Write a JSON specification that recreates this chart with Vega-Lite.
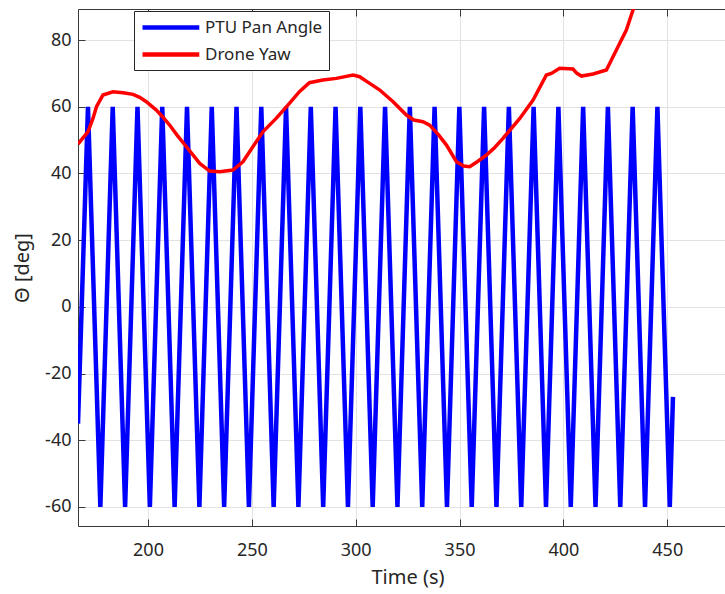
{
  "$schema": "https://vega.github.io/schema/vega-lite/v6.json",
  "width": 647,
  "height": 517,
  "autosize": "none",
  "padding": {"left": 78, "top": 9, "right": 0, "bottom": 68},
  "background": "white",
  "config": {
    "font": "Noto Sans",
    "view": {"stroke": null},
    "axis": {
      "domainColor": "#3a3a3a",
      "tickColor": "#3a3a3a",
      "gridColor": "#e2e2e2",
      "gridWidth": 1,
      "labelColor": "#262626",
      "titleColor": "#262626",
      "labelFontSize": 18,
      "titleFontSize": 20,
      "titleFontWeight": "normal",
      "tickSize": -7
    },
    "legend": {
      "orient": "none",
      "legendX": 56,
      "legendY": 2,
      "padding": 6,
      "strokeColor": "#262626",
      "fillColor": "white",
      "cornerRadius": 0,
      "labelFontSize": 17,
      "labelColor": "#262626",
      "labelLimit": 300,
      "symbolType": "M-1,0H6.1",
      "symbolSize": 256,
      "symbolStrokeWidth": 4.5,
      "rowPadding": 7,
      "labelOffset": 44
    }
  },
  "datasets": {
    "pan": [
      {"t": 166.3, "v": -35, "series": "PTU Pan Angle"},
      {"t": 171.1, "v": 60, "series": "PTU Pan Angle"},
      {"t": 177.06, "v": -60, "series": "PTU Pan Angle"},
      {"t": 183.02, "v": 60, "series": "PTU Pan Angle"},
      {"t": 188.98, "v": -60, "series": "PTU Pan Angle"},
      {"t": 194.94, "v": 60, "series": "PTU Pan Angle"},
      {"t": 200.9, "v": -60, "series": "PTU Pan Angle"},
      {"t": 206.86, "v": 60, "series": "PTU Pan Angle"},
      {"t": 212.82, "v": -60, "series": "PTU Pan Angle"},
      {"t": 218.78, "v": 60, "series": "PTU Pan Angle"},
      {"t": 224.74, "v": -60, "series": "PTU Pan Angle"},
      {"t": 230.7, "v": 60, "series": "PTU Pan Angle"},
      {"t": 236.66, "v": -60, "series": "PTU Pan Angle"},
      {"t": 242.62, "v": 60, "series": "PTU Pan Angle"},
      {"t": 248.58, "v": -60, "series": "PTU Pan Angle"},
      {"t": 254.54, "v": 60, "series": "PTU Pan Angle"},
      {"t": 260.5, "v": -60, "series": "PTU Pan Angle"},
      {"t": 266.46, "v": 60, "series": "PTU Pan Angle"},
      {"t": 272.42, "v": -60, "series": "PTU Pan Angle"},
      {"t": 278.38, "v": 60, "series": "PTU Pan Angle"},
      {"t": 284.34, "v": -60, "series": "PTU Pan Angle"},
      {"t": 290.3, "v": 60, "series": "PTU Pan Angle"},
      {"t": 296.26, "v": -60, "series": "PTU Pan Angle"},
      {"t": 302.22, "v": 60, "series": "PTU Pan Angle"},
      {"t": 308.18, "v": -60, "series": "PTU Pan Angle"},
      {"t": 314.14, "v": 60, "series": "PTU Pan Angle"},
      {"t": 320.1, "v": -60, "series": "PTU Pan Angle"},
      {"t": 326.06, "v": 60, "series": "PTU Pan Angle"},
      {"t": 332.02, "v": -60, "series": "PTU Pan Angle"},
      {"t": 337.98, "v": 60, "series": "PTU Pan Angle"},
      {"t": 343.94, "v": -60, "series": "PTU Pan Angle"},
      {"t": 349.9, "v": 60, "series": "PTU Pan Angle"},
      {"t": 355.86, "v": -60, "series": "PTU Pan Angle"},
      {"t": 361.82, "v": 60, "series": "PTU Pan Angle"},
      {"t": 367.78, "v": -60, "series": "PTU Pan Angle"},
      {"t": 373.74, "v": 60, "series": "PTU Pan Angle"},
      {"t": 379.7, "v": -60, "series": "PTU Pan Angle"},
      {"t": 385.66, "v": 60, "series": "PTU Pan Angle"},
      {"t": 391.62, "v": -60, "series": "PTU Pan Angle"},
      {"t": 397.58, "v": 60, "series": "PTU Pan Angle"},
      {"t": 403.54, "v": -60, "series": "PTU Pan Angle"},
      {"t": 409.5, "v": 60, "series": "PTU Pan Angle"},
      {"t": 415.46, "v": -60, "series": "PTU Pan Angle"},
      {"t": 421.42, "v": 60, "series": "PTU Pan Angle"},
      {"t": 427.38, "v": -60, "series": "PTU Pan Angle"},
      {"t": 433.34, "v": 60, "series": "PTU Pan Angle"},
      {"t": 439.3, "v": -60, "series": "PTU Pan Angle"},
      {"t": 445.26, "v": 60, "series": "PTU Pan Angle"},
      {"t": 451.22, "v": -60, "series": "PTU Pan Angle"},
      {"t": 452.75, "v": -27, "series": "PTU Pan Angle"}
    ],
    "yaw": [
      {"t": 166.3, "v": 48.8, "series": "Drone Yaw"},
      {"t": 168.5, "v": 50.5, "series": "Drone Yaw"},
      {"t": 171.1, "v": 52.5, "series": "Drone Yaw"},
      {"t": 173.5, "v": 56.5, "series": "Drone Yaw"},
      {"t": 175.2, "v": 60.0, "series": "Drone Yaw"},
      {"t": 178.3, "v": 63.5, "series": "Drone Yaw"},
      {"t": 183.1, "v": 64.5, "series": "Drone Yaw"},
      {"t": 188.0, "v": 64.2, "series": "Drone Yaw"},
      {"t": 192.8, "v": 63.7, "series": "Drone Yaw"},
      {"t": 196.0, "v": 62.8, "series": "Drone Yaw"},
      {"t": 199.2, "v": 61.5, "series": "Drone Yaw"},
      {"t": 204.0, "v": 59.0, "series": "Drone Yaw"},
      {"t": 207.0, "v": 57.0, "series": "Drone Yaw"},
      {"t": 210.4, "v": 54.5, "series": "Drone Yaw"},
      {"t": 214.0, "v": 51.5, "series": "Drone Yaw"},
      {"t": 218.5, "v": 48.0, "series": "Drone Yaw"},
      {"t": 224.9, "v": 43.0, "series": "Drone Yaw"},
      {"t": 229.7, "v": 40.7, "series": "Drone Yaw"},
      {"t": 234.5, "v": 40.5, "series": "Drone Yaw"},
      {"t": 240.9, "v": 41.0, "series": "Drone Yaw"},
      {"t": 245.7, "v": 43.5, "series": "Drone Yaw"},
      {"t": 250.5, "v": 48.0, "series": "Drone Yaw"},
      {"t": 255.3, "v": 52.5, "series": "Drone Yaw"},
      {"t": 261.7, "v": 56.5, "series": "Drone Yaw"},
      {"t": 268.1, "v": 61.0, "series": "Drone Yaw"},
      {"t": 272.9, "v": 64.5, "series": "Drone Yaw"},
      {"t": 277.7, "v": 67.2, "series": "Drone Yaw"},
      {"t": 284.2, "v": 68.0, "series": "Drone Yaw"},
      {"t": 290.7, "v": 68.5, "series": "Drone Yaw"},
      {"t": 298.7, "v": 69.5, "series": "Drone Yaw"},
      {"t": 301.9, "v": 69.0, "series": "Drone Yaw"},
      {"t": 306.0, "v": 67.3, "series": "Drone Yaw"},
      {"t": 311.6, "v": 65.0, "series": "Drone Yaw"},
      {"t": 318.0, "v": 61.5, "series": "Drone Yaw"},
      {"t": 324.4, "v": 57.5, "series": "Drone Yaw"},
      {"t": 328.0, "v": 56.0, "series": "Drone Yaw"},
      {"t": 332.4, "v": 55.5, "series": "Drone Yaw"},
      {"t": 335.6, "v": 54.5, "series": "Drone Yaw"},
      {"t": 340.0, "v": 51.5, "series": "Drone Yaw"},
      {"t": 343.7, "v": 48.5, "series": "Drone Yaw"},
      {"t": 348.5, "v": 43.5, "series": "Drone Yaw"},
      {"t": 352.0, "v": 42.2, "series": "Drone Yaw"},
      {"t": 354.9, "v": 42.0, "series": "Drone Yaw"},
      {"t": 358.5, "v": 43.5, "series": "Drone Yaw"},
      {"t": 362.9, "v": 45.5, "series": "Drone Yaw"},
      {"t": 366.5, "v": 47.5, "series": "Drone Yaw"},
      {"t": 370.9, "v": 50.5, "series": "Drone Yaw"},
      {"t": 379.0, "v": 56.5, "series": "Drone Yaw"},
      {"t": 385.4, "v": 62.0, "series": "Drone Yaw"},
      {"t": 391.8, "v": 69.5, "series": "Drone Yaw"},
      {"t": 394.2, "v": 70.0, "series": "Drone Yaw"},
      {"t": 398.2, "v": 71.5, "series": "Drone Yaw"},
      {"t": 404.6, "v": 71.3, "series": "Drone Yaw"},
      {"t": 406.5, "v": 70.0, "series": "Drone Yaw"},
      {"t": 408.7, "v": 69.2, "series": "Drone Yaw"},
      {"t": 414.3, "v": 69.8, "series": "Drone Yaw"},
      {"t": 420.7, "v": 71.0, "series": "Drone Yaw"},
      {"t": 425.5, "v": 77.0, "series": "Drone Yaw"},
      {"t": 430.3, "v": 83.0, "series": "Drone Yaw"},
      {"t": 433.5, "v": 89.0, "series": "Drone Yaw"},
      {"t": 436.0, "v": 95.0, "series": "Drone Yaw"}
    ]
  },
  "resolve": {"axis": {"x": "independent"}},
  "layer": [
    {
      "data": {"name": "pan"},
      "mark": {"type": "line", "strokeWidth": 4.5, "clip": true},
      "encoding": {
        "x": {
          "field": "t", "type": "quantitative",
          "scale": {"domain": [166.3, 477.8], "nice": false, "zero": false},
          "axis": {
            "orient": "bottom",
            "values": [200, 250, 300, 350, 400, 450],
            "grid": true,
            "labelPadding": 22,
            "title": "Time (s)",
            "titlePadding": 8,
            "titleX": 329.5
          }
        },
        "y": {
          "field": "v", "type": "quantitative",
          "scale": {"domain": [-65.7, 89.3], "nice": false, "zero": false},
          "axis": {
            "values": [-60, -40, -20, 0, 20, 40, 60, 80],
            "grid": true,
            "labelPadding": 14,
            "labelExpr": "datum.value + ''",
            "title": "Θ [deg]",
            "titlePadding": 12
          }
        },
        "color": {
          "field": "series", "type": "nominal",
          "scale": {"domain": ["PTU Pan Angle", "Drone Yaw"], "range": ["#0000ff", "#ff0000"]},
          "legend": {"title": null}
        }
      }
    },
    {
      "data": {"name": "yaw"},
      "mark": {"type": "line", "strokeWidth": 3.5, "clip": true},
      "encoding": {
        "x": {
          "field": "t", "type": "quantitative",
          "axis": {
            "orient": "top",
            "values": [200, 250, 300, 350, 400, 450],
            "grid": false,
            "labels": false,
            "title": null
          }
        },
        "y": {"field": "v", "type": "quantitative"},
        "color": {
          "field": "series", "type": "nominal",
          "legend": {"title": null}
        }
      }
    }
  ]
}
